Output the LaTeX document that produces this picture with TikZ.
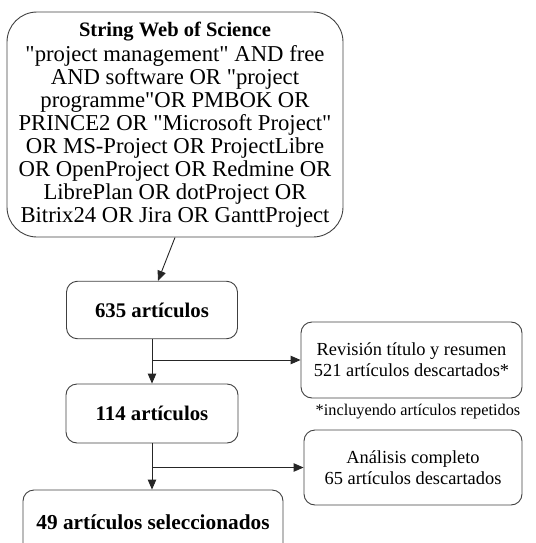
\documentclass[tikz,border=0pt]{standalone}
\usepackage{fontspec}
\setmainfont{Liberation Serif}
\usetikzlibrary{arrows.meta,calc}
\newcommand{\qq}{\textquotedbl}
\begin{document}
\begin{tikzpicture}[x=1pt,y=-1pt,
  box/.style={draw=black!75, line width=0.9pt, rounded corners=11pt, inner sep=0pt, align=center, text=black},
  bigtxt/.style={font=\bfseries\fontsize{20.8}{24}\selectfont},
  sidetxt/.style={font=\fontsize{18.4}{21}\selectfont},
  arr/.style={draw=black!85, line width=0.9pt, -{Triangle[length=10pt,width=8.5pt]}}]
\useasboundingbox (0,0) rectangle (535,543);
\node[box, rounded corners=30pt, minimum width=336pt, minimum height=225pt,
      font=\fontsize{22.7}{23}\selectfont] (top) at (175,124.5)
  {{\bfseries\fontsize{20.5}{23}\selectfont String Web of Science}\\[1.5pt]
   \qq project management\qq{} AND free\\
   AND software OR \qq project\\
   programme\qq OR PMBOK OR\\
   PRINCE2 OR \qq Microsoft Project\qq\\
   OR MS-Project OR ProjectLibre\\
   OR OpenProject OR Redmine OR\\
   LibrePlan OR dotProject OR\\
   Bitrix24 OR Jira OR GanttProject};
\node[box, bigtxt, minimum width=171pt, minimum height=57.5pt] (a635) at (152,310) {635 artículos};
\node[box, bigtxt, minimum width=172pt, minimum height=59pt] (a114) at (152,413.5) {114 artículos};
\node[box, bigtxt, font=\bfseries\fontsize{21.3}{24}\selectfont, minimum width=260pt, minimum height=64pt] (a49) at (153,522) {49 artículos seleccionados};
\node[box, sidetxt, minimum width=221pt, minimum height=76pt] (r1) at (411.5,360)
  {Revisión título y resumen\\521 artículos descartados*};
\node[font=\fontsize{16.3}{19}\selectfont, inner sep=0pt] (note) at (418,412) {*incluyendo artículos repetidos};
\node[box, sidetxt, minimum width=218pt, minimum height=75pt] (r2) at (413,467.5)
  {Análisis completo\\65 artículos descartados};
\draw[arr] (top.south) -- ([xshift=6pt]a635.north);
\draw[arr] (a635.south) -- (a114.north);
\draw[arr] (a635.south |- r1.west) -- (r1.west);
\draw[arr] (a114.south) -- (a114.south |- a49.north);
\draw[arr] (a114.south |- r2.west) -- (r2.west);
\end{tikzpicture}
\end{document}
